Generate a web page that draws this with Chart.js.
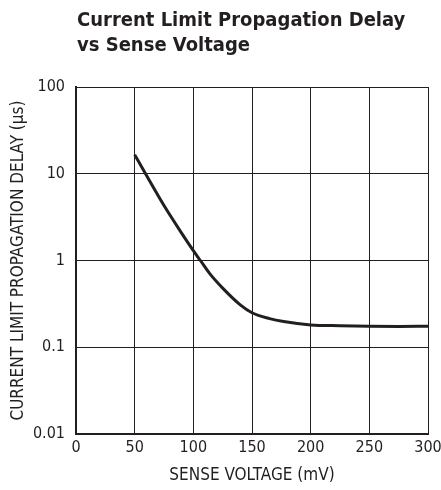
<!DOCTYPE html>
<html>
<head>
<meta charset="utf-8">
<script src="https://cdn.jsdelivr.net/npm/chart.js@4"></script>
<style>
  html, body { margin: 0; padding: 0; background: #fff; }
  #wrap { position: relative; width: 441px; height: 490px; }
  #title {
    position: absolute; left: 77px; top: 7px;
    font-family: "Liberation Sans Narrow", "DejaVu Sans Condensed", sans-serif;
    font-weight: bold; font-size: 20px; line-height: 25px; color: #231f20;
  }
</style>
</head>
<body>
<div id="wrap">
  <canvas id="delayChart" width="441" height="490"></canvas>
  <div id="title">Current Limit Propagation Delay<br>vs Sense Voltage</div>
</div>
<script>
// Data
const senseVoltage = [50, 60, 75, 90, 100, 106, 114, 125, 140, 150, 165, 177, 200, 225, 250, 275, 300];
const propDelay = [16.6, 9.6, 4.3, 2.07, 1.3, 1.0, 0.705, 0.48, 0.308, 0.25, 0.214, 0.198, 0.181, 0.177, 0.175, 0.174, 0.175];
const xTicks = [0, 50, 100, 150, 200, 250, 300];
const yTicks = [0.01, 0.1, 1, 10, 100];

const font = 'Liberation Sans Narrow, DejaVu Sans Condensed, sans-serif';
const ink = '#231f20';

window.onload = function () {
    const ctx = document.getElementById('delayChart').getContext('2d');
    new Chart(ctx, {
        type: 'line',
        data: {
            datasets: [{
                data: senseVoltage.map((v, i) => ({ x: v, y: propDelay[i] })),
                borderColor: ink,
                borderWidth: 3,
                pointRadius: 0,
                cubicInterpolationMode: 'monotone',
                fill: false
            }]
        },
        options: {
            responsive: false,
            animation: false,
            layout: { padding: { top: 87, right: 0, left: 0, bottom: 0 } },
            plugins: { legend: { display: false }, tooltip: { enabled: false } },
            scales: {
                x: {
                    type: 'linear',
                    min: 0, max: 300,
                    afterBuildTicks: s => { s.ticks = xTicks.map(v => ({ value: v })); },
                    afterFit: s => { s.height = 56; s.paddingRight = 13; },
                    grid: { color: ink, lineWidth: 1, drawTicks: false },
                    border: { color: ink, width: 2 },
                    ticks: { color: ink, font: { family: font, size: 16 }, padding: 4, maxRotation: 0, autoSkip: false },
                    title: { display: true, text: 'SENSE VOLTAGE (mV)', color: ink, font: { family: font, size: 17 }, padding: { top: 0 } }
                },
                y: {
                    type: 'logarithmic',
                    min: 0.01, max: 100,
                    afterBuildTicks: s => { s.ticks = yTicks.map(v => ({ value: v })); },
                    afterFit: s => { s.width = 76; },
                    grid: { color: ink, lineWidth: 1, drawTicks: false },
                    border: { color: ink, width: 2 },
                    ticks: { color: ink, font: { family: font, size: 16 }, padding: 11, callback: v => String(v) },
                    title: { display: true, text: 'CURRENT LIMIT PROPAGATION DELAY (µs)', color: ink, font: { family: font, size: 17 }, padding: { top: 8, bottom: 0 } }
                }
            }
        }
    });
};
</script>
</body>
</html>
